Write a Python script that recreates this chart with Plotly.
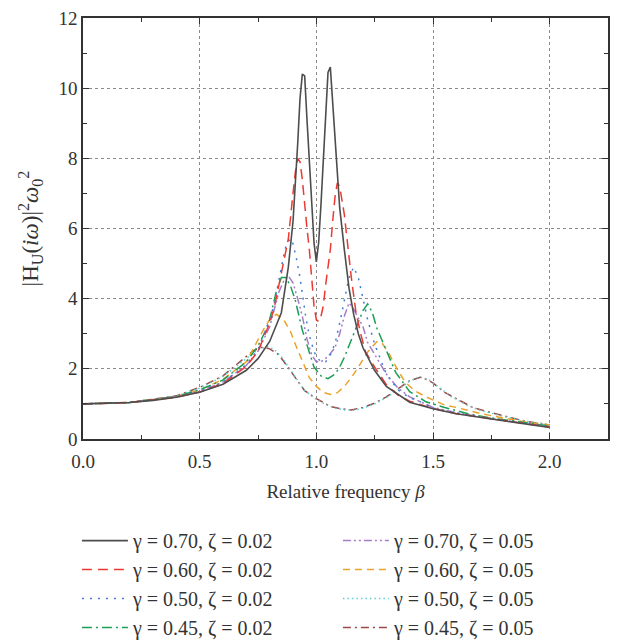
import plotly.graph_objects as go

# ---- data ----
b_k = [0, 0.1, 0.2, 0.3, 0.4, 0.5, 0.6, 0.7, 0.75, 0.8, 0.85, 0.88, 0.9, 0.92, 0.93, 0.94, 0.95, 0.96, 0.97, 0.98, 0.99, 1.0,
       1.01, 1.02, 1.03, 1.04, 1.05, 1.06, 1.07, 1.08, 1.09, 1.1, 1.12, 1.14, 1.16, 1.18, 1.2, 1.25, 1.3, 1.4, 1.5, 1.6, 1.75, 1.9, 2.0]
v_k = [1.0, 1.01, 1.04, 1.10, 1.19, 1.33, 1.56, 1.96, 2.29, 2.78, 3.6, 4.9, 6.2, 8.4, 9.7, 10.4, 10.35, 9.1, 7.8, 6.6, 5.6, 5.05,
       5.6, 6.7, 8.0, 9.3, 10.45, 10.6, 9.6, 8.3, 7.4, 6.6, 5.4, 4.3, 3.55, 3.0, 2.6, 1.95, 1.5, 1.05, 0.86, 0.72, 0.57, 0.42, 0.33]

b_r = [0, 0.2, 0.4, 0.5, 0.6, 0.7, 0.75, 0.8, 0.82, 0.85, 0.87, 0.88, 0.9, 0.91, 0.92, 0.93, 0.94, 0.95, 0.96, 0.97, 0.98, 0.99,
       1.0, 1.01, 1.02, 1.03, 1.04, 1.05, 1.06, 1.07, 1.08, 1.09, 1.1, 1.12, 1.13, 1.15, 1.17, 1.19, 1.21, 1.25, 1.3, 1.35, 1.4,
       1.5, 1.6, 1.75, 1.9, 2.0]
v_r = [1.0, 1.04, 1.19, 1.34, 1.58, 2.07, 2.5, 3.3, 3.75, 4.7, 5.3, 5.7, 7.0, 7.6, 8.0, 7.9, 7.4, 6.6, 6.0, 5.4, 4.5, 3.8,
       3.4, 3.35, 3.5, 3.8, 4.4, 4.9, 5.4, 6.2, 6.9, 7.3, 7.2, 6.4, 5.8, 4.6, 3.6, 3.0, 2.5, 2.05, 1.55, 1.25, 1.08,
       0.87, 0.72, 0.57, 0.43, 0.34]

b_b = [0, 0.2, 0.4, 0.5, 0.6, 0.7, 0.75, 0.8, 0.82, 0.85, 0.865, 0.88, 0.895, 0.915, 0.93, 0.955, 0.97, 0.99, 1.0, 1.02, 1.04,
       1.06, 1.08, 1.1, 1.12, 1.14, 1.16, 1.18, 1.2, 1.22, 1.25, 1.3, 1.35, 1.4, 1.45, 1.5, 1.6, 1.75, 1.9, 2.0]
v_b = [1.0, 1.04, 1.2, 1.36, 1.62, 2.12, 2.55, 3.4, 3.85, 4.9, 5.4, 5.65, 5.7, 5.13, 4.6, 3.47, 2.95, 2.5, 2.35, 2.2, 2.2,
       2.4, 2.72, 3.3, 3.9, 4.6, 4.9, 4.6, 4.0, 3.4, 2.7, 1.85, 1.4, 1.18, 1.05, 0.88, 0.74, 0.58, 0.45, 0.36]

b_g = [0, 0.2, 0.4, 0.5, 0.6, 0.7, 0.75, 0.78, 0.8, 0.83, 0.85, 0.87, 0.89, 0.91, 0.94, 0.96, 0.99, 1.02, 1.05, 1.08, 1.1,
       1.12, 1.14, 1.17, 1.2, 1.22, 1.24, 1.26, 1.3, 1.34, 1.4, 1.47, 1.55, 1.65, 1.75, 1.9, 2.0]
v_g = [1.0, 1.04, 1.21, 1.4, 1.68, 2.2, 2.65, 3.05, 3.4, 4.25, 4.6, 4.6, 4.35, 3.95, 3.1, 2.65, 2.05, 1.8, 1.72, 1.85, 2.05,
       2.33, 2.67, 3.2, 3.66, 3.85, 3.6, 3.15, 2.5, 1.9, 1.35, 1.06, 0.9, 0.72, 0.6, 0.45, 0.37]

b_p = [0, 0.2, 0.4, 0.5, 0.6, 0.7, 0.75, 0.8, 0.84, 0.86, 0.88, 0.9, 0.92, 0.94, 0.96, 0.98, 1.0, 1.02, 1.05, 1.08, 1.1,
       1.12, 1.14, 1.16, 1.2, 1.22, 1.26, 1.3, 1.35, 1.4, 1.5, 1.6, 1.75, 1.9, 2.0]
v_p = [1.0, 1.04, 1.2, 1.36, 1.62, 2.1, 2.5, 3.2, 4.2, 4.5, 4.65, 4.45, 4.0, 3.5, 2.85, 2.4, 2.2, 2.2, 2.35, 2.6, 3.0,
       3.5, 3.88, 3.7, 3.2, 2.75, 2.3, 1.85, 1.45, 1.2, 0.9, 0.75, 0.58, 0.44, 0.35]

b_o = [0, 0.2, 0.4, 0.5, 0.6, 0.7, 0.74, 0.78, 0.81, 0.83, 0.86, 0.89, 0.91, 0.94, 0.97, 1.0, 1.03, 1.06, 1.09, 1.12, 1.15,
       1.18, 1.22, 1.26, 1.28, 1.31, 1.35, 1.38, 1.42, 1.47, 1.55, 1.6, 1.7, 1.8, 1.9, 2.0]
v_o = [1.0, 1.04, 1.21, 1.4, 1.7, 2.2, 2.7, 3.2, 3.5, 3.55, 3.4, 3.05, 2.7, 2.2, 1.75, 1.5, 1.33, 1.27, 1.32, 1.5, 1.75,
       2.05, 2.48, 2.78, 2.75, 2.45, 1.95, 1.63, 1.38, 1.2, 0.97, 0.9, 0.73, 0.6, 0.48, 0.4]

b_c = [0, 0.2, 0.4, 0.5, 0.6, 0.7, 0.75, 0.79, 0.82, 0.85, 0.9, 0.95, 1.0, 1.04, 1.08, 1.12, 1.16, 1.2, 1.25, 1.3, 1.35,
       1.4, 1.44, 1.48, 1.52, 1.58, 1.65, 1.7, 1.8, 1.9, 2.0]
v_c = [1.0, 1.04, 1.22, 1.45, 1.78, 2.3, 2.55, 2.63, 2.55, 2.35, 1.85, 1.38, 1.13, 0.98, 0.88, 0.83, 0.82, 0.88, 1.0, 1.18, 1.4,
       1.65, 1.77, 1.7, 1.5, 1.2, 0.95, 0.82, 0.65, 0.5, 0.42]

b_n = [0, 0.2, 0.4, 0.5, 0.6, 0.7, 0.73, 0.77, 0.8, 0.84, 0.89, 0.95, 1.0, 1.06, 1.1, 1.15, 1.2, 1.25, 1.3, 1.35, 1.4, 1.45,
       1.5, 1.55, 1.6, 1.67, 1.75, 1.9, 2.0]
v_n = [1.0, 1.04, 1.23, 1.47, 1.8, 2.35, 2.52, 2.62, 2.57, 2.4, 1.95, 1.38, 1.15, 0.93, 0.87, 0.83, 0.9, 1.02, 1.2, 1.42, 1.66, 1.77,
       1.6, 1.33, 1.15, 0.9, 0.75, 0.5, 0.4]

names = ["γ = 0.70, ζ = 0.02", "γ = 0.60, ζ = 0.02", "γ = 0.50, ζ = 0.02", "γ = 0.45, ζ = 0.02",
         "γ = 0.70, ζ = 0.05", "γ = 0.60, ζ = 0.05", "γ = 0.50, ζ = 0.05", "γ = 0.45, ζ = 0.05"]
xs = [b_k, b_r, b_b, b_g, b_p, b_o, b_c, b_n]
ys = [v_k, v_r, v_b, v_g, v_p, v_o, v_c, v_n]

colors = ["#4d4d4d", "#ea3a33", "#3d7dd6", "#1b9e55", "#a77cc8", "#eaa22a", "#5ccfcf", "#9c4a48"]
dashes = ["solid", "10px,6px", "2px,6px", "10px,4px,2px,4px", "8px,3px,2px,3px,2px,3px", "7px,5px", "1.5px,3px", "8px,4px,2px,4px"]
ranks = [1, 3, 5, 7, 2, 4, 6, 8]
order = [7, 6, 5, 4, 3, 2, 1, 0]

fig = go.Figure()
for i in order:
    fig.add_trace(go.Scatter(
        x=xs[i], y=ys[i], mode="lines", name=names[i],
        line=dict(color=colors[i], width=1.6 if i == 0 else 1.5, dash=dashes[i]),
        legendrank=ranks[i],
    ))

serif = "Liberation Serif"
axis_common = dict(
    showline=True, linecolor="#333333", linewidth=1.5, mirror="allticks",
    ticks="inside", ticklen=6, tickcolor="#333333", tickwidth=1.2,
    showgrid=True, gridcolor="#8a8a8a", griddash="dot", gridwidth=1,
    zeroline=False, ticklabeloverflow="allow",
    tickfont=dict(family=serif, size=19, color="#333333"),
)

fig.update_xaxes(
    range=[0, 2.25], tickvals=[0, 0.5, 1.0, 1.5, 2.0], ticktext=["0.0", "0.5", "1.0", "1.5", "2.0"],
    minor=dict(dtick=0.25, tick0=0, ticks="inside", ticklen=4, tickcolor="#333333", showgrid=False),
    title=dict(text="Relative frequency <i>β</i>", font=dict(family=serif, size=19, color="#333333"), standoff=14),
    ticklabelstandoff=4,
    automargin=False,
    **axis_common,
)
fig.update_yaxes(
    range=[0, 12], tickvals=[0, 2, 4, 6, 8, 10, 12],
    minor=dict(dtick=1, tick0=0, ticks="inside", ticklen=4, tickcolor="#333333", showgrid=False),
    title=dict(text="|H<sub>U</sub>(<i>iω</i>)|<sup>2</sup><i>ω</i><sub>0</sub><sup>2</sup>",
               font=dict(family=serif, size=23, color="#333333"), standoff=13),
    automargin=False,
    **axis_common,
)

fig.update_layout(
    width=611, height=632,
    margin=dict(l=75, r=11, t=10, b=201, autoexpand=False),
    paper_bgcolor="white", plot_bgcolor="white",
    showlegend=True,
    legend=dict(
        orientation="h", x=-0.0116, xanchor="left", y=-0.195, yanchor="top",
        entrywidth=200, entrywidthmode="pixels",
        font=dict(family=serif, size=20, color="#333333"),
        tracegroupgap=0, itemwidth=46,
        bgcolor="rgba(0,0,0,0)",
    ),
)

fig.write_html("out.html")
